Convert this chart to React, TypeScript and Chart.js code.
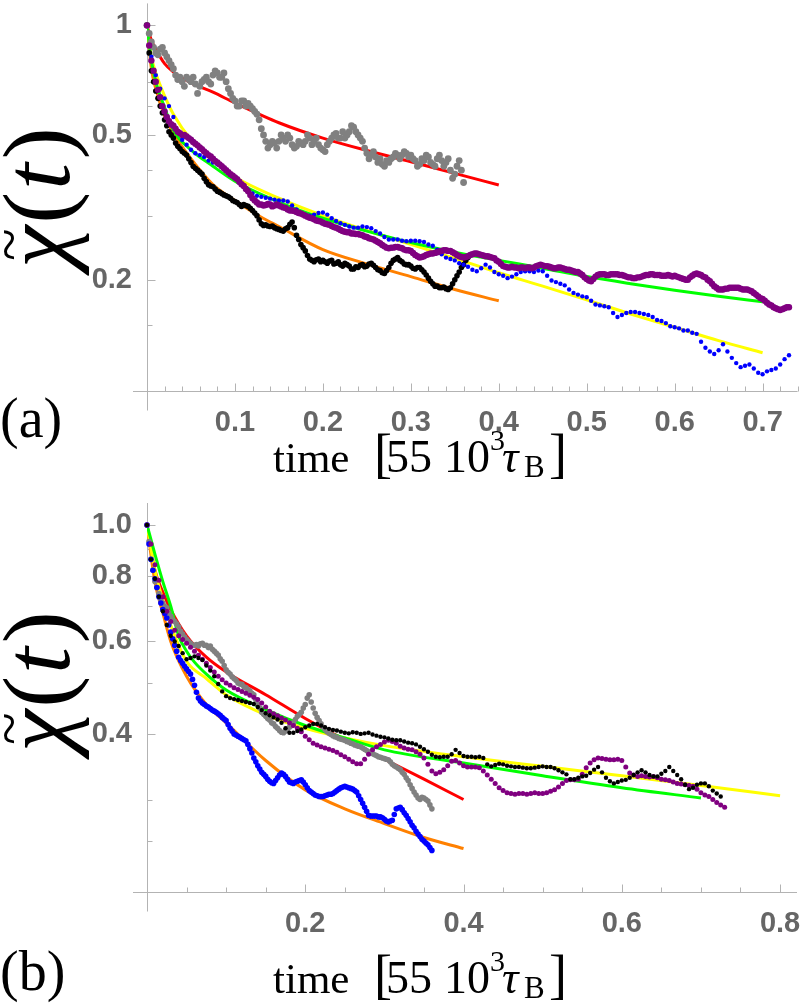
import React, { useEffect, useRef } from "react";
import { Chart, registerables } from "chart.js";

Chart.register(...registerables);

// Sampling interval (in units of 55·10³ τ_B) of the measured relaxation curves.
// "...Mid" arrays hold the interleaved samples at half a step.
const STEP = 0.005;

// ---------- Panel (a): measured χ̃(t) ----------
const grayA = [
  1.0, 0.9, 0.84, 0.86, 0.84, 0.8, 0.76, 0.71, 0.7, 0.72,
  0.7, 0.69, 0.68, 0.71, 0.7, 0.73, 0.74, 0.72, 0.7, 0.65,
  0.62, 0.6, 0.62, 0.61, 0.59, 0.57, 0.52, 0.48, 0.47, 0.475,
  0.48, 0.49, 0.5, 0.47, 0.465, 0.475, 0.48, 0.49, 0.48, 0.47,
  0.455, 0.47, 0.49, 0.505, 0.49, 0.49, 0.51, 0.525, 0.5, 0.48,
  0.445, 0.44, 0.435, 0.43, 0.41, 0.42, 0.435, 0.44, 0.44, 0.445,
  0.44, 0.425, 0.415, 0.425, 0.435, 0.415, 0.43, 0.425, 0.42, 0.4,
  0.39, 0.425, 0.37,
];
const grayAMid = [
  0.95, 0.87, 0.83, 0.87, 0.82, 0.78, 0.73, 0.72, 0.68, 0.71,
  0.72, 0.65, 0.7, 0.72, 0.69, 0.75, 0.72, 0.74, 0.67, 0.63,
  0.6, 0.62, 0.6, 0.6, 0.58, 0.55, 0.5, 0.46, 0.48, 0.46,
  0.5, 0.48, 0.49, 0.46, 0.48, 0.47, 0.5, 0.47, 0.49, 0.46,
  0.45, 0.48, 0.5, 0.49, 0.51, 0.5, 0.53, 0.51, 0.49, 0.46,
  0.43, 0.45, 0.42, 0.415, 0.425, 0.43, 0.445, 0.43, 0.45, 0.435,
  0.43, 0.41, 0.43, 0.44, 0.42, 0.41, 0.44, 0.41, 0.43, 0.38,
  0.41, 0.4,
];

const blackA = [
  1.0, 0.75, 0.66, 0.6, 0.55, 0.51, 0.49, 0.465, 0.45, 0.44,
  0.42, 0.405, 0.395, 0.38, 0.365, 0.36, 0.35, 0.345, 0.34, 0.335,
  0.328, 0.322, 0.322, 0.318, 0.31, 0.3, 0.285, 0.283, 0.28, 0.278,
  0.275, 0.272, 0.278, 0.288, 0.265, 0.25, 0.24, 0.228, 0.224, 0.228,
  0.226, 0.222, 0.226, 0.222, 0.22, 0.222, 0.218, 0.214, 0.216, 0.22,
  0.218, 0.222, 0.216, 0.212, 0.208, 0.216, 0.226, 0.23, 0.224, 0.22,
  0.218, 0.214, 0.216, 0.21, 0.202, 0.195, 0.192, 0.19, 0.189, 0.19,
  0.2, 0.21, 0.22, 0.23,
];
const blackAMid = [
  0.84, 0.7, 0.63, 0.575, 0.53, 0.5, 0.475, 0.458, 0.445, 0.43,
  0.41, 0.4, 0.39, 0.372, 0.362, 0.355, 0.348, 0.342, 0.338, 0.33,
  0.326, 0.318, 0.32, 0.314, 0.305, 0.292, 0.282, 0.281, 0.281, 0.276,
  0.273, 0.276, 0.284, 0.278, 0.258, 0.245, 0.233, 0.226, 0.227, 0.224,
  0.224, 0.225, 0.221, 0.224, 0.218, 0.22, 0.214, 0.217, 0.219, 0.217,
  0.221, 0.219, 0.213, 0.209, 0.212, 0.222, 0.228, 0.226, 0.221, 0.22,
  0.215, 0.216, 0.213, 0.206, 0.198, 0.192, 0.19, 0.191, 0.188, 0.195,
  0.205, 0.216, 0.226,
];

const blueA = [
  1.0, 0.82, 0.73, 0.67, 0.63, 0.6, 0.56, 0.51, 0.485, 0.47,
  0.455, 0.445, 0.44, 0.435, 0.425, 0.42, 0.415, 0.41, 0.4, 0.39,
  0.38, 0.37, 0.36, 0.352, 0.345, 0.34, 0.338, 0.336, 0.334, 0.332,
  0.33, 0.33, 0.328, 0.32, 0.312, 0.305, 0.302, 0.3, 0.302, 0.305,
  0.306, 0.302, 0.295, 0.29, 0.286, 0.283, 0.28, 0.278, 0.278, 0.28,
  0.279, 0.277, 0.272, 0.268, 0.262, 0.258, 0.258, 0.258, 0.256, 0.255,
  0.256, 0.256, 0.255, 0.254, 0.25, 0.248, 0.242, 0.235, 0.23, 0.228,
  0.226, 0.222, 0.22, 0.217, 0.213, 0.211, 0.215, 0.22, 0.216, 0.21,
  0.207, 0.205, 0.202, 0.204, 0.207, 0.21, 0.211, 0.211, 0.21, 0.212,
  0.211, 0.205, 0.199, 0.197, 0.195, 0.193, 0.188, 0.184, 0.182, 0.18,
  0.179, 0.175, 0.171, 0.17, 0.169, 0.168, 0.162, 0.158, 0.16, 0.162,
  0.163, 0.163, 0.162, 0.161, 0.16, 0.158, 0.155, 0.154, 0.152, 0.149,
  0.148, 0.147, 0.145, 0.145, 0.143, 0.142, 0.135, 0.13, 0.127, 0.125,
  0.128, 0.133, 0.127, 0.122, 0.118, 0.115, 0.116, 0.117, 0.114, 0.111,
  0.11, 0.112, 0.113, 0.114, 0.117, 0.121, 0.124,
];

const purpleA = [
  1.0, 0.8, 0.7, 0.635, 0.58, 0.545, 0.53, 0.51, 0.5, 0.495,
  0.485, 0.473, 0.462, 0.45, 0.44, 0.43, 0.42, 0.41, 0.4, 0.39,
  0.382, 0.372, 0.362, 0.35, 0.335, 0.326, 0.322, 0.321, 0.322, 0.32,
  0.32, 0.316, 0.312, 0.31, 0.307, 0.304, 0.3, 0.296, 0.293, 0.29,
  0.287, 0.284, 0.281, 0.278, 0.274, 0.271, 0.27, 0.268, 0.267, 0.265,
  0.262, 0.259, 0.256, 0.252, 0.247, 0.244, 0.245, 0.246, 0.244, 0.241,
  0.24, 0.234, 0.23, 0.232, 0.235, 0.236, 0.238, 0.24, 0.241, 0.24,
  0.236, 0.232, 0.23, 0.232, 0.235, 0.236, 0.234, 0.232, 0.231, 0.229,
  0.224, 0.218, 0.216, 0.217, 0.216, 0.216, 0.215, 0.216, 0.216, 0.219,
  0.219, 0.218, 0.216, 0.215, 0.216, 0.214, 0.213, 0.211, 0.21, 0.206,
  0.201, 0.198, 0.204, 0.207, 0.207, 0.206, 0.207, 0.207, 0.206, 0.204,
  0.203, 0.202, 0.203, 0.205, 0.206, 0.207, 0.206, 0.205, 0.205, 0.205,
  0.205, 0.203, 0.201, 0.2, 0.205, 0.208, 0.206, 0.203, 0.198, 0.192,
  0.188, 0.188, 0.189, 0.19, 0.19, 0.189, 0.188, 0.187, 0.184, 0.18,
  0.177, 0.173, 0.17, 0.167, 0.165, 0.167, 0.168,
];
const purpleAMid = [
  0.88, 0.75, 0.665, 0.6, 0.56, 0.535, 0.52, 0.505, 0.5, 0.49,
  0.478, 0.468, 0.457, 0.445, 0.436, 0.424, 0.415, 0.405, 0.395, 0.386,
  0.378, 0.366, 0.355, 0.342, 0.33, 0.322, 0.32, 0.323, 0.318, 0.322,
  0.318, 0.315, 0.31, 0.309, 0.305, 0.302, 0.298, 0.295, 0.291, 0.289,
  0.285, 0.283, 0.279, 0.276, 0.272, 0.27, 0.268, 0.267, 0.266, 0.263,
  0.26, 0.258, 0.254, 0.249, 0.245, 0.245, 0.246, 0.245, 0.242, 0.241,
  0.237, 0.232, 0.231, 0.234, 0.236, 0.237, 0.239, 0.241, 0.24, 0.238,
  0.234, 0.231, 0.231, 0.234, 0.236, 0.235, 0.233, 0.232, 0.23, 0.226,
  0.221, 0.217, 0.216, 0.216, 0.215, 0.216, 0.216, 0.215, 0.218, 0.22,
  0.218, 0.217, 0.215, 0.216, 0.215, 0.213, 0.212, 0.21, 0.208, 0.203,
  0.199, 0.201, 0.206, 0.207, 0.206, 0.207, 0.207, 0.206, 0.205, 0.203,
  0.202, 0.203, 0.204, 0.206, 0.207, 0.206, 0.206, 0.205, 0.206, 0.204,
  0.204, 0.202, 0.2, 0.203, 0.207, 0.207, 0.204, 0.2, 0.195, 0.19,
  0.188, 0.189, 0.19, 0.19, 0.19, 0.188, 0.188, 0.186, 0.182, 0.178,
  0.175, 0.171, 0.168, 0.166, 0.166, 0.168,
];

// Fitted curves for panel (a): [t, χ̃]
const redFitA: [number, number][] = [
  [0, 1], [0.005, 0.91], [0.01, 0.86], [0.02, 0.785], [0.03, 0.745], [0.05, 0.695],
  [0.075, 0.655], [0.1, 0.612], [0.15, 0.54], [0.2, 0.49], [0.25, 0.453],
  [0.3, 0.422], [0.35, 0.392], [0.4, 0.364],
];
const orangeFitA: [number, number][] = [
  [0, 1], [0.005, 0.76], [0.01, 0.67], [0.02, 0.565], [0.03, 0.505], [0.05, 0.43],
  [0.075, 0.365], [0.1, 0.33], [0.13, 0.297], [0.15, 0.28], [0.2, 0.242],
  [0.25, 0.221], [0.3, 0.204], [0.35, 0.188], [0.4, 0.175],
];
const yellowFitA: [number, number][] = [
  [0, 1], [0.005, 0.82], [0.01, 0.74], [0.02, 0.64], [0.03, 0.57], [0.05, 0.485],
  [0.075, 0.425], [0.1, 0.383], [0.15, 0.335], [0.2, 0.3], [0.25, 0.273],
  [0.3, 0.25], [0.35, 0.229], [0.4, 0.209], [0.45, 0.192], [0.5, 0.176],
  [0.55, 0.161], [0.6, 0.148], [0.65, 0.136], [0.7, 0.126],
];
const greenFitA: [number, number][] = [
  [0, 1], [0.005, 0.8], [0.01, 0.7], [0.02, 0.595], [0.03, 0.515], [0.05, 0.455],
  [0.075, 0.41], [0.1, 0.373], [0.15, 0.327], [0.2, 0.295], [0.25, 0.272],
  [0.3, 0.253], [0.35, 0.238], [0.4, 0.226], [0.45, 0.215], [0.5, 0.204],
  [0.55, 0.195], [0.6, 0.187], [0.65, 0.18], [0.7, 0.174],
];

// ---------- Panel (b): measured χ̃(t) ----------
const grayB = [
  1.0, 0.86, 0.78, 0.74, 0.71, 0.695, 0.67, 0.655, 0.64, 0.62,
  0.605, 0.595, 0.59, 0.588, 0.595, 0.59, 0.588, 0.575, 0.565, 0.55,
  0.53, 0.52, 0.51, 0.5, 0.497, 0.49, 0.483, 0.475, 0.455, 0.44,
  0.432, 0.425, 0.418, 0.41, 0.403, 0.405, 0.412, 0.42, 0.432, 0.44,
  0.455, 0.475, 0.448, 0.43, 0.418, 0.408, 0.401, 0.397, 0.394, 0.391,
  0.389, 0.386, 0.383, 0.38, 0.378, 0.374, 0.37, 0.367, 0.364, 0.361,
  0.359, 0.357, 0.35, 0.346, 0.342, 0.335, 0.326, 0.315, 0.306, 0.3,
  0.302, 0.298, 0.288,
];
const grayBMid = [
  0.93, 0.82, 0.76, 0.72, 0.7, 0.68, 0.66, 0.648, 0.628, 0.612,
  0.6, 0.59, 0.592, 0.594, 0.59, 0.584, 0.58, 0.57, 0.556, 0.54,
  0.524, 0.514, 0.506, 0.498, 0.492, 0.486, 0.478, 0.465, 0.448, 0.436,
  0.428, 0.42, 0.413, 0.406, 0.402, 0.409, 0.415, 0.426, 0.436, 0.448,
  0.468, 0.46, 0.438, 0.424, 0.412, 0.404, 0.399, 0.395, 0.392, 0.39,
  0.387, 0.384, 0.381, 0.379, 0.376, 0.372, 0.368, 0.365, 0.362, 0.36,
  0.358, 0.354, 0.348, 0.344, 0.338, 0.33, 0.32, 0.31, 0.302, 0.303,
  0.3, 0.293,
];

const blueB = [
  1.0, 0.86, 0.79, 0.73, 0.69, 0.665, 0.625, 0.59, 0.56, 0.545,
  0.532, 0.52, 0.495, 0.468, 0.458, 0.452, 0.447, 0.442, 0.437, 0.43,
  0.424, 0.41, 0.4, 0.396, 0.392, 0.388, 0.375, 0.36, 0.348, 0.338,
  0.332, 0.325, 0.322, 0.33, 0.337, 0.332, 0.324, 0.322, 0.325, 0.327,
  0.32, 0.312, 0.308, 0.305, 0.304, 0.305, 0.307, 0.308, 0.312, 0.316,
  0.318, 0.316, 0.314, 0.31, 0.3, 0.29, 0.28, 0.279, 0.279, 0.278,
  0.275, 0.272, 0.274, 0.288, 0.29, 0.283, 0.276, 0.268, 0.261, 0.255,
  0.25, 0.246, 0.24,
];
const blueBMid = [
  0.92, 0.82, 0.76, 0.71, 0.678, 0.645, 0.607, 0.575, 0.552, 0.538,
  0.526, 0.508, 0.48, 0.462, 0.455, 0.45, 0.444, 0.44, 0.434, 0.427,
  0.417, 0.405, 0.398, 0.394, 0.39, 0.382, 0.368, 0.354, 0.343, 0.335,
  0.328, 0.323, 0.326, 0.334, 0.335, 0.328, 0.323, 0.324, 0.326, 0.324,
  0.316, 0.31, 0.306, 0.304, 0.304, 0.306, 0.307, 0.31, 0.314, 0.317,
  0.317, 0.315, 0.312, 0.305, 0.295, 0.285, 0.279, 0.279, 0.278, 0.277,
  0.273, 0.273, 0.281, 0.289, 0.287, 0.28, 0.272, 0.265, 0.258, 0.252,
  0.248, 0.243,
];

const blackB = [
  1.0, 0.86, 0.79, 0.73, 0.685, 0.645, 0.615, 0.6, 0.588, 0.57,
  0.555, 0.558, 0.562, 0.558, 0.553, 0.54, 0.528, 0.515, 0.498, 0.482,
  0.472, 0.468, 0.466, 0.464, 0.462, 0.46, 0.458, 0.456, 0.45, 0.444,
  0.438, 0.434, 0.43, 0.426, 0.42, 0.41, 0.402, 0.402, 0.405, 0.408,
  0.412, 0.415, 0.418, 0.418, 0.415, 0.412, 0.409, 0.407, 0.406, 0.404,
  0.402, 0.401, 0.403, 0.402, 0.4, 0.401, 0.402, 0.399, 0.397, 0.395,
  0.394, 0.392, 0.39, 0.389, 0.389, 0.387, 0.385, 0.384, 0.382, 0.378,
  0.374, 0.37, 0.365, 0.362, 0.361, 0.362, 0.362, 0.366, 0.373, 0.368,
  0.363, 0.362, 0.362, 0.361, 0.362, 0.36, 0.35, 0.347, 0.349, 0.351,
  0.35, 0.348, 0.347, 0.346, 0.346, 0.345, 0.344, 0.344, 0.345, 0.346,
  0.347, 0.346, 0.346, 0.344, 0.341, 0.338, 0.335, 0.328, 0.328, 0.33,
  0.332, 0.333, 0.337, 0.342, 0.346, 0.338, 0.33, 0.325, 0.322, 0.324,
  0.326, 0.327, 0.33, 0.334, 0.338, 0.341, 0.338, 0.334, 0.332, 0.332,
  0.336, 0.34, 0.346, 0.34, 0.334, 0.328, 0.32, 0.314, 0.316, 0.32,
  0.322, 0.322, 0.318, 0.312, 0.308, 0.304,
];

const purpleB = [
  1.0, 0.92, 0.84, 0.785, 0.73, 0.685, 0.655, 0.63, 0.615, 0.605,
  0.595, 0.585, 0.575, 0.565, 0.555, 0.545, 0.535, 0.525, 0.515, 0.507,
  0.5, 0.495, 0.49, 0.486, 0.482, 0.478, 0.474, 0.47, 0.465, 0.458,
  0.45, 0.442, 0.437, 0.433, 0.429, 0.425, 0.42, 0.415, 0.41, 0.404,
  0.396, 0.39, 0.384, 0.381, 0.378, 0.376, 0.374, 0.372, 0.369, 0.365,
  0.362, 0.358, 0.354, 0.351, 0.351, 0.358, 0.366, 0.373, 0.378, 0.382,
  0.386, 0.389, 0.387, 0.384, 0.379, 0.376, 0.374, 0.373, 0.37, 0.366,
  0.36, 0.35, 0.34, 0.336, 0.338, 0.342, 0.348, 0.355, 0.356, 0.352,
  0.348, 0.346, 0.346, 0.346, 0.345, 0.34, 0.334, 0.328, 0.322, 0.316,
  0.312, 0.309, 0.308, 0.307, 0.308, 0.308, 0.307, 0.308, 0.309, 0.308,
  0.308, 0.309, 0.311, 0.313, 0.317, 0.322, 0.326, 0.327, 0.327, 0.328,
  0.335, 0.345, 0.352, 0.357, 0.36, 0.359, 0.358, 0.357, 0.357, 0.358,
  0.356, 0.346, 0.337, 0.334, 0.332, 0.333, 0.332, 0.331, 0.332, 0.33,
  0.328, 0.327, 0.326, 0.324, 0.322, 0.321, 0.32, 0.319, 0.318, 0.314,
  0.309, 0.306, 0.304, 0.3, 0.296, 0.293, 0.29,
];

// Fitted curves for panel (b): [t, χ̃]
const redFitB: [number, number][] = [
  [0, 1], [0.01, 0.82], [0.02, 0.745], [0.03, 0.69], [0.05, 0.615], [0.075, 0.56],
  [0.1, 0.525], [0.15, 0.475], [0.2, 0.428], [0.25, 0.39], [0.3, 0.358],
  [0.35, 0.328], [0.4, 0.3],
];
const orangeFitB: [number, number][] = [
  [0, 1], [0.01, 0.78], [0.02, 0.68], [0.03, 0.6], [0.05, 0.515], [0.075, 0.455],
  [0.1, 0.42], [0.15, 0.356], [0.2, 0.313], [0.25, 0.288], [0.3, 0.27],
  [0.35, 0.254], [0.4, 0.242],
];
const yellowFitB: [number, number][] = [
  [0, 1], [0.01, 0.82], [0.02, 0.72], [0.03, 0.645], [0.05, 0.55], [0.075, 0.51],
  [0.1, 0.475], [0.15, 0.435], [0.2, 0.41], [0.25, 0.393], [0.3, 0.38],
  [0.4, 0.362], [0.5, 0.347], [0.6, 0.333], [0.7, 0.319], [0.8, 0.305],
];
const greenFitB: [number, number][] = [
  [0, 1], [0.01, 0.88], [0.02, 0.78], [0.03, 0.7], [0.04, 0.615], [0.05, 0.575],
  [0.06, 0.548], [0.075, 0.52], [0.1, 0.485], [0.15, 0.445], [0.2, 0.415],
  [0.25, 0.393], [0.3, 0.373], [0.4, 0.352], [0.5, 0.333], [0.6, 0.316],
  [0.7, 0.302],
];

// ---------- Axis ticks ----------
const xMajorA = [0.1, 0.2, 0.3, 0.4, 0.5, 0.6, 0.7];
const xLabelsA = ["0.1", "0.2", "0.3", "0.4", "0.5", "0.6", "0.7"];
const yMajorA = [0.2, 0.5, 1];
const yLabelsA = ["0.2", "0.5", "1"];
const yMinorA = [0.15, 0.3, 0.4, 0.6, 0.7, 0.8, 0.9];

const xMajorB = [0.2, 0.4, 0.6, 0.8];
const xLabelsB = ["0.2", "0.4", "0.6", "0.8"];
const yMajorB = [0.4, 0.6, 0.8, 1.0];
const yLabelsB = ["0.4", "0.6", "0.8", "1.0"];
const yMinorB = [0.25, 0.3, 0.5, 0.7, 0.9];

const COLORS = {
  gray: "#808080",
  black: "#000000",
  blue: "#0000ff",
  purple: "#800080",
  red: "#ff0000",
  orange: "#ff8000",
  yellow: "#ffff00",
  green: "#00ff00",
};
const AXIS_COLOR = "#b3b3b3";
const TICK_LABEL_COLOR = "#666666";
const SERIF = '"Liberation Serif", "DejaVu Serif", serif';

const sampled = (vals: number[], offset = 0) =>
  vals.map((v, i) => ({ x: Math.round((offset + i * STEP) * 100000) / 100000, y: v }));
const curve = (pts: [number, number][]) => pts.map(([x, y]) => ({ x, y }));

const dots = (label: string, vals: number[], color: string, r: number, order: number, offset = 0) => ({
  label,
  data: sampled(vals, offset),
  showLine: false,
  borderColor: color,
  backgroundColor: color,
  pointBackgroundColor: color,
  pointBorderColor: color,
  pointBorderWidth: 0,
  pointRadius: r,
  pointHoverRadius: r,
  order,
  clip: false,
});

const fitLine = (label: string, pts: [number, number][], color: string, order: number) => ({
  label,
  data: curve(pts),
  showLine: true,
  borderColor: color,
  backgroundColor: color,
  borderWidth: 3,
  pointRadius: 0,
  pointHoverRadius: 0,
  cubicInterpolationMode: "monotone",
  fill: false,
  order,
});

// Minor tick positions: multiples of `step` up to `to`, skipping every `skipEvery`-th (the majors).
function minorTicks(to: number, step: number, skipEvery: number) {
  const out: number[] = [];
  for (let i = 1; i * step <= to + 1e-9; i++) {
    if (i % skipEvery !== 0) out.push(Math.round(i * step * 1000) / 1000);
  }
  return out;
}

type PanelCfg = {
  key: string;
  height: number;
  xMax: number;
  yMin: number;
  yMax: number;
  padTop: number;
  padRight: number;
  xAxisHeight: number;
  xMajor: number[];
  xLabels: string[];
  xMinor: number[];
  yMajor: number[];
  yLabels: string[];
  yMinor: number[];
  datasets: any[];
  tag: string;
  tagBaseline: number;
  xTitleBaseline: number;
  yTitleBottom: number;
};

const HALF = STEP / 2;

const panelA: PanelCfg = {
  key: "a",
  height: 500,
  xMax: 0.7398,
  yMin: 0.0989,
  yMax: 1.149,
  padTop: 0,
  padRight: 3,
  xAxisHeight: 109,
  xMajor: xMajorA,
  xLabels: xLabelsA,
  xMinor: minorTicks(0.74, 0.02, 5),
  yMajor: yMajorA,
  yLabels: yLabelsA,
  yMinor: yMinorA,
  datasets: [
    dots("purple", purpleA, COLORS.purple, 3.2, 0),
    dots("purple", purpleAMid, COLORS.purple, 3.2, 0, HALF),
    dots("blue", blueA, COLORS.blue, 2.2, 1),
    dots("black", blackA, COLORS.black, 2.8, 2),
    dots("black", blackAMid, COLORS.black, 2.8, 2, HALF),
    dots("gray", grayA, COLORS.gray, 3.4, 3),
    dots("gray", grayAMid, COLORS.gray, 3.4, 3, HALF),
    fitLine("green fit", greenFitA, COLORS.green, 10),
    fitLine("yellow fit", yellowFitA, COLORS.yellow, 11),
    fitLine("orange fit", orangeFitA, COLORS.orange, 12),
    fitLine("red fit", redFitA, COLORS.red, 13),
  ],
  tag: "(a)",
  tagBaseline: 437,
  xTitleBaseline: 472,
  yTitleBottom: 268,
};

const panelB: PanelCfg = {
  key: "b",
  height: 505,
  xMax: 0.8214,
  yMin: 0.2,
  yMax: 1.101,
  padTop: 3,
  padRight: 4,
  xAxisHeight: 113,
  xMajor: xMajorB,
  xLabels: xLabelsB,
  xMinor: minorTicks(0.82, 0.05, 4),
  yMajor: yMajorB,
  yLabels: yLabelsB,
  yMinor: yMinorB,
  datasets: [
    dots("black", blackB, COLORS.black, 2.2, 0),
    dots("purple", purpleB, COLORS.purple, 2.5, 1),
    dots("blue", blueB, COLORS.blue, 2.8, 2),
    dots("blue", blueBMid, COLORS.blue, 2.8, 2, HALF),
    dots("gray", grayB, COLORS.gray, 2.8, 3),
    dots("gray", grayBMid, COLORS.gray, 2.8, 3, HALF),
    fitLine("green fit", greenFitB, COLORS.green, 10),
    fitLine("yellow fit", yellowFitB, COLORS.yellow, 11),
    fitLine("orange fit", orangeFitB, COLORS.orange, 12),
    fitLine("red fit", redFitB, COLORS.red, 13),
  ],
  tag: "(b)",
  tagBaseline: 490,
  xTitleBaseline: 493,
  yTitleBottom: 252,
};

// Pieces of the x-axis title "time [55 10³ τ_B]" with offsets from its left edge.
const X_TITLE_LEFT = 273;
const xTitleParts = [
  { s: "time", dx: 0, size: 43, italic: false, dy: 0 },
  { s: "[", dx: 101, size: 54, italic: false, dy: 0 },
  { s: "55", dx: 113, size: 46, italic: false, dy: 0 },
  { s: "10", dx: 171, size: 46, italic: false, dy: 0 },
  { s: "3", dx: 217, size: 30, italic: false, dy: -22 },
  { s: "τ", dx: 229, size: 46, italic: true, dy: 0 },
  { s: "B", dx: 251, size: 31, italic: false, dy: 5 },
  { s: "]", dx: 276, size: 54, italic: false, dy: 0 },
];

function drawXTitle(ctx: CanvasRenderingContext2D, baseline: number) {
  ctx.save();
  ctx.fillStyle = "#000";
  ctx.textAlign = "left";
  ctx.textBaseline = "alphabetic";
  for (const p of xTitleParts) {
    ctx.font = `${p.italic ? "italic " : ""}${p.size}px ${SERIF}`;
    ctx.fillText(p.s, X_TITLE_LEFT + p.dx, baseline + p.dy);
  }
  ctx.restore();
}

function drawYTitle(ctx: CanvasRenderingContext2D, bottom: number) {
  const size = 96;
  ctx.save();
  ctx.translate(69, bottom);
  ctx.rotate(-Math.PI / 2);
  ctx.fillStyle = "#000";
  ctx.textAlign = "left";
  ctx.textBaseline = "alphabetic";
  let x = 0;
  ctx.font = `italic ${size}px ${SERIF}`;
  ctx.fillText("χ", x, 0);
  const wChi = ctx.measureText("χ").width;
  ctx.save();
  ctx.font = `60px ${SERIF}`;
  ctx.textAlign = "center";
  ctx.textBaseline = "middle";
  ctx.fillText("~", x + wChi / 2 + 2, -56);
  ctx.restore();
  x += wChi + 2;
  ctx.font = `${size}px ${SERIF}`;
  ctx.fillText("(", x, 0);
  x += ctx.measureText("(").width + 2;
  ctx.font = `italic ${size}px ${SERIF}`;
  ctx.fillText("t", x, 0);
  x += ctx.measureText("t").width + 4;
  ctx.font = `${size}px ${SERIF}`;
  ctx.fillText(")", x, 0);
  ctx.restore();
}

function makeFramePlugin(cfg: PanelCfg) {
  return {
    id: "frame-" + cfg.key,
    beforeDatasetsDraw(chart: any) {
      const { ctx, chartArea: a, scales } = chart;
      const xs = scales.x;
      const ys = scales.y;
      const bottom = Math.round(a.bottom) + 0.5;
      const left = Math.round(a.left) + 0.5;
      ctx.save();
      ctx.strokeStyle = AXIS_COLOR;
      ctx.lineWidth = 1;
      ctx.beginPath();
      // axis lines (x axis overhangs to the left, y axis runs below the x axis)
      ctx.moveTo(133, bottom);
      ctx.lineTo(a.right, bottom);
      ctx.moveTo(left, a.top);
      ctx.lineTo(left, bottom + 19);
      // ticks point into the plot
      for (const v of cfg.xMajor) {
        const px = Math.round(xs.getPixelForValue(v)) + 0.5;
        ctx.moveTo(px, bottom);
        ctx.lineTo(px, bottom - 8);
      }
      for (const v of cfg.xMinor) {
        const px = Math.round(xs.getPixelForValue(v)) + 0.5;
        ctx.moveTo(px, bottom);
        ctx.lineTo(px, bottom - 5);
      }
      for (const v of cfg.yMajor) {
        const py = Math.round(ys.getPixelForValue(v)) + 0.5;
        ctx.moveTo(left, py);
        ctx.lineTo(left + 8, py);
      }
      for (const v of cfg.yMinor) {
        const py = Math.round(ys.getPixelForValue(v)) + 0.5;
        ctx.moveTo(left, py);
        ctx.lineTo(left + 5, py);
      }
      ctx.stroke();
      ctx.restore();
    },
    afterDraw(chart: any) {
      const ctx = chart.ctx as CanvasRenderingContext2D;
      drawYTitle(ctx, cfg.yTitleBottom);
      drawXTitle(ctx, cfg.xTitleBaseline);
      ctx.save();
      ctx.fillStyle = "#000";
      ctx.font = `56px ${SERIF}`;
      ctx.textAlign = "left";
      ctx.textBaseline = "alphabetic";
      ctx.fillText(cfg.tag, 0, cfg.tagBaseline);
      ctx.restore();
    },
  };
}

function Panel({ cfg, top }: { cfg: PanelCfg; top: number }) {
  const ref = useRef<HTMLCanvasElement | null>(null);

  useEffect(() => {
    const canvas = ref.current;
    if (!canvas) return;
    const tickFont = { family: '"Liberation Sans", Arial, sans-serif', size: 29, weight: "bold" as const };
    const chart = new Chart(canvas, {
      type: "line",
      data: { datasets: cfg.datasets as any },
      options: {
        responsive: false,
        animation: false,
        devicePixelRatio: 1,
        events: [],
        layout: { padding: { left: 0, right: cfg.padRight, top: cfg.padTop, bottom: 0 } },
        plugins: { legend: { display: false }, tooltip: { enabled: false } },
        scales: {
          x: {
            type: "linear",
            min: 0,
            max: cfg.xMax,
            bounds: "data",
            grid: { display: false },
            border: { display: false },
            ticks: {
              autoSkip: false,
              maxRotation: 0,
              padding: 7,
              color: TICK_LABEL_COLOR,
              font: tickFont,
              callback: (value: any) => {
                const i = cfg.xMajor.findIndex((v) => Math.abs(v - Number(value)) < 1e-6);
                return i >= 0 ? cfg.xLabels[i] : "";
              },
            },
            afterBuildTicks: (s: any) => {
              s.ticks = cfg.xMajor.map((v) => ({ value: v }));
            },
            afterFit: (s: any) => {
              s.height = cfg.xAxisHeight;
              s.paddingLeft = 0;
              s.paddingRight = 0;
              s.paddingTop = 0;
              s.paddingBottom = 0;
            },
          },
          y: {
            type: "logarithmic",
            min: cfg.yMin,
            max: cfg.yMax,
            bounds: "data",
            grid: { display: false },
            border: { display: false },
            ticks: {
              autoSkip: false,
              padding: 7,
              color: TICK_LABEL_COLOR,
              font: tickFont,
              callback: (value: any) => {
                const i = cfg.yMajor.findIndex((v) => Math.abs(v - Number(value)) < 1e-6);
                return i >= 0 ? cfg.yLabels[i] : "";
              },
            },
            afterBuildTicks: (s: any) => {
              s.ticks = cfg.yMajor.map((v) => ({ value: v }));
            },
            afterFit: (s: any) => {
              s.width = 147;
              s.paddingLeft = 0;
              s.paddingRight = 0;
              s.paddingTop = 0;
              s.paddingBottom = 0;
            },
          },
        },
      } as any,
      plugins: [makeFramePlugin(cfg)],
    });
    return () => chart.destroy();
  }, [cfg]);

  return (
    <div style={{ position: "absolute", left: 0, top, width: 801, height: cfg.height }}>
      <canvas ref={ref} width={801} height={cfg.height} style={{ display: "block" }} />
    </div>
  );
}

export default function App() {
  return (
    <div
      style={{
        position: "fixed",
        left: 0,
        top: 0,
        width: 801,
        height: 1005,
        background: "#ffffff",
        overflow: "hidden",
      }}
    >
      <Panel cfg={panelA} top={0} />
      <Panel cfg={panelB} top={500} />
    </div>
  );
}
